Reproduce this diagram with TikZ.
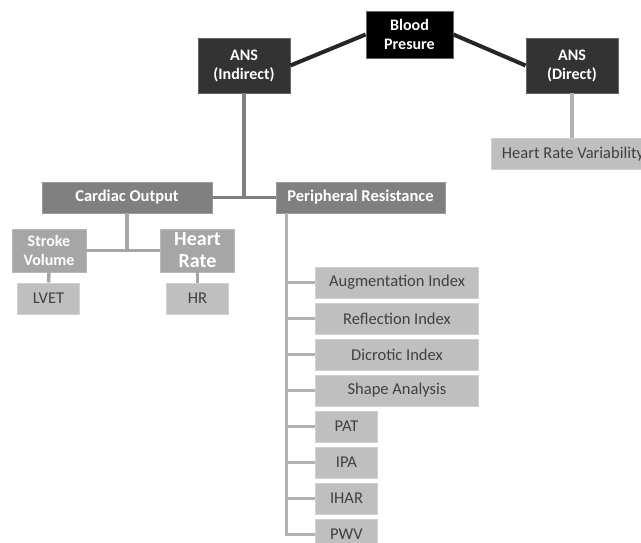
\documentclass[tikz,border=0pt]{standalone}
\usepackage{fontspec}
\setmainfont{Carlito}
\usetikzlibrary{calc}

\tikzset{
  topbox/.style={rectangle, fill=black!80, draw=black!60, line width=0.8pt, text=white,
    font=\bfseries\fontsize{16}{19}\selectfont, align=center,
    minimum width=92pt, minimum height=55pt, inner sep=0pt},
  midbox/.style={rectangle, fill=black!50, draw=black!40, line width=0.8pt, text=white,
    font=\bfseries\fontsize{16.5}{19}\selectfont,
    minimum width=170pt, minimum height=31pt, inner sep=0pt},
  subbox/.style={rectangle, fill=black!35, draw=black!28, line width=0.8pt, text=white,
    font=\bfseries\fontsize{16}{19}\selectfont, align=center,
    minimum width=74pt, minimum height=43pt, inner sep=0pt},
  leaf/.style={rectangle, fill=black!25, draw=black!18, line width=1pt, text=black!75,
    font=\fontsize{16.5}{19}\selectfont,
    minimum width=62pt, minimum height=31pt, inner sep=0pt},
  link/.style={line width=3.5pt}
}

\begin{document}
\begin{tikzpicture}[x=1pt, y=-1pt]
  \useasboundingbox (0,0) rectangle (641,543);
  \clip (0,0) rectangle (641,543);

  % top level
  \node[topbox, fill=black, minimum width=87pt, minimum height=47pt] (bp) at (409.5,34.5) {Blood\\Presure};
  \node[topbox] (ansi) at (244,65.5) {ANS\\(Indirect)};
  \node[topbox] (ansd) at (572,65.5) {ANS\\(Direct)};
  \node[leaf, minimum width=164pt] (hrv) at (573,154) {Heart Rate Variability};

  % indirect branch
  \node[midbox] (co) at (127,197.5) {Cardiac Output};
  \node[midbox, minimum width=169pt] (pr) at (360.5,197.5) {Peripheral Resistance};
  \node[subbox] (sv) at (49,250.5) {Stroke\\Volume};
  \node[subbox, font=\bfseries\fontsize{20}{22}\selectfont] (hr) at (197.5,250.5) {Heart\\Rate};
  \node[leaf] (lvet) at (48.5,298.5) {LVET};
  \node[leaf] (hrm) at (197.5,298.5) {HR};

  \foreach \name/\txt/\w [count=\i] in {aix/Augmentation Index/163, rix/Reflection Index/163,
      dix/Dicrotic Index/163, shape/Shape Analysis/163, pat/PAT/62, ipa/IPA/62,
      ihar/IHAR/62, pwv/PWV/62}
    \node[leaf, minimum width=\w pt, anchor=west] (\name) at (315,246.5+36*\i) {\txt};

  % connectors
  \draw[link, black!85, line width=4pt] (ansi.east) -- (bp.west);
  \draw[link, black!85, line width=4pt] (bp.east) -- (ansd.west);
  \draw[link, black!30] (ansd.south) -- (ansd.south |- hrv.north);

  \draw[link, black!50] (ansi.south) -- (ansi.south |- co.east);
  \draw[link, black!50] (co.east) -- (pr.west);

  \draw[link, black!35] (co.south) -- (co.south |- sv.east);
  \draw[link, black!35] (sv.east) -- (hr.west);
  \draw[link, black!35] (sv.south) -- (lvet.north);
  \draw[link, black!35] (hr.south) -- (hrm.north);

  \coordinate (trunk) at ($(pr.south west)+(11,0)$);
  \foreach \name in {aix,rix,dix,shape,pat,ipa,ihar,pwv}
    \draw[link, black!30] (trunk) |- (\name.west);
\end{tikzpicture}
\end{document}
